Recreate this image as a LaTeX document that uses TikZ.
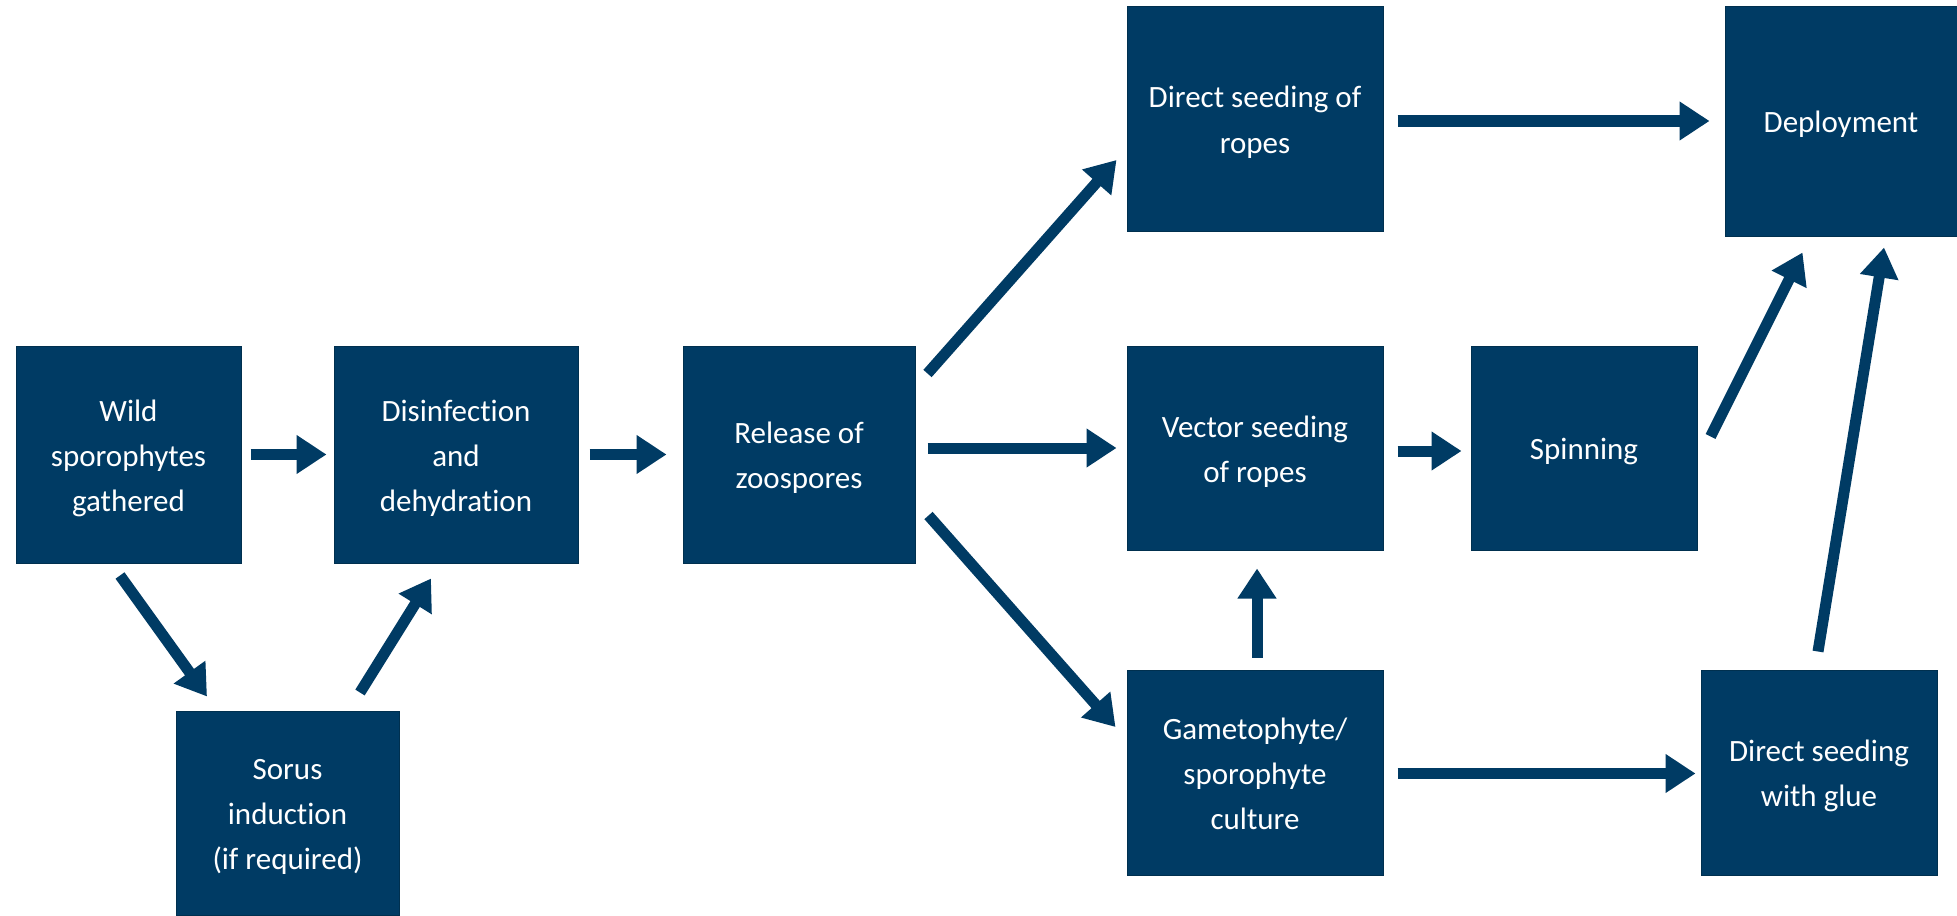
\documentclass[tikz,border=0pt]{standalone}
\usepackage{fontspec}
\setmainfont{Carlito}[Ligatures=CommonOff]
\usetikzlibrary{arrows.meta,calc}
\definecolor{navy}{HTML}{003B64}
\definecolor{navyedge}{HTML}{00304F}
\newcommand{\Ts}{\rule{0pt}{17pt}}
\newcommand{\Bs}{\rule[-5.5pt]{0pt}{5.5pt}}
\begin{document}
\begin{tikzpicture}[x=0.5pt,y=-0.5pt,
  box/.style={fill=navy, draw=navyedge, line width=0.5pt, text=white, align=center,
    inner sep=0pt, font=\fontsize{15.5}{22.5}\selectfont},
  arr/.style={draw=navy, line width=5.5pt, -{Triangle[width=18.5pt,length=15pt]}}]
\useasboundingbox (0,0) rectangle (1957,915);
\fill[white] (0,0) rectangle (1957,915);
% boxes
\node[box, minimum width=112.5pt, minimum height=108.5pt] (A) at (128.5,454.5) {\Ts Wild\\sporophytes\\gathered\Bs};
\node[box, minimum width=122pt, minimum height=108.5pt] (B) at (456,454.5) {\Ts Disinfection\\and\\dehydration\Bs};
\node[box, minimum width=116pt, minimum height=108.5pt] (C) at (799,454.5) {\Ts Release of\\zoospores\Bs};
\node[box, minimum width=111.5pt, minimum height=102pt] (D) at (287.5,813) {\Ts Sorus\\induction\\(if required)\Bs};
\node[box, minimum width=128pt, minimum height=112pt] (E) at (1255,119) {\Ts Direct seeding of\\ropes\Bs};
\node[box, minimum width=128pt, minimum height=102pt] (F) at (1255,448) {\Ts Vector seeding\\of ropes\Bs};
\node[box, minimum width=128pt, minimum height=102.5pt] (G) at (1255,772.5) {\Ts Gametophyte/\\sporophyte\\culture\Bs};
\node[box, minimum width=113pt, minimum height=102pt] (H) at (1584,448) {\Ts Spinning\Bs};
\node[box, minimum width=116pt, minimum height=114.5pt] (I) at (1841,121.5) {\Ts Deployment\Bs};
\node[box, minimum width=118pt, minimum height=102.5pt] (J) at (1819,772.5) {\Ts Direct seeding\\with glue\Bs};
% arrows
\draw[arr] ($(A.east)+(9,0)$) -- ($(B.west)+(-7,0)$);
\draw[arr] ($(B.east)+(11,0)$) -- ($(C.west)+(-16,0)$);
\draw[arr] ($(A.south)+(-8.5,12)$) -- ($(D.north)+(-80.5,-14)$);
\draw[arr] ($(D.north)+(72.5,-18)$) -- ($(B.south)+(-25,15)$);
\draw[arr] ($(C.north east)+(12,28)$) -- ($(E.west)+(-10,41)$);
\draw[arr] ($(C.east |- F.west)+(12,0)$) -- ($(F.west)+(-10,0)$);
\draw[arr] ($(C.south east)+(13,-48)$) -- ($(G.west)+(-11,-45.5)$);
\draw[arr] ($(E.east)+(14,2)$) -- ($(E.east -| I.west)+(-15,2)$);
\draw[arr] ($(F.east)+(14,3)$) -- ($(H.west)+(-9,3)$);
\draw[arr] ($(G.north)+(2,-12)$) -- ($(F.south)+(2,18)$);
\draw[arr] ($(G.east)+(14,1)$) -- ($(J.west)+(-5,1)$);
\draw[arr] ($(H.north east)+(13,91)$) -- ($(I.south west)+(78,16)$);
\draw[arr] ($(J.north)+(-1,-18)$) -- ($(I.south)+(43,11)$);
\end{tikzpicture}
\end{document}
